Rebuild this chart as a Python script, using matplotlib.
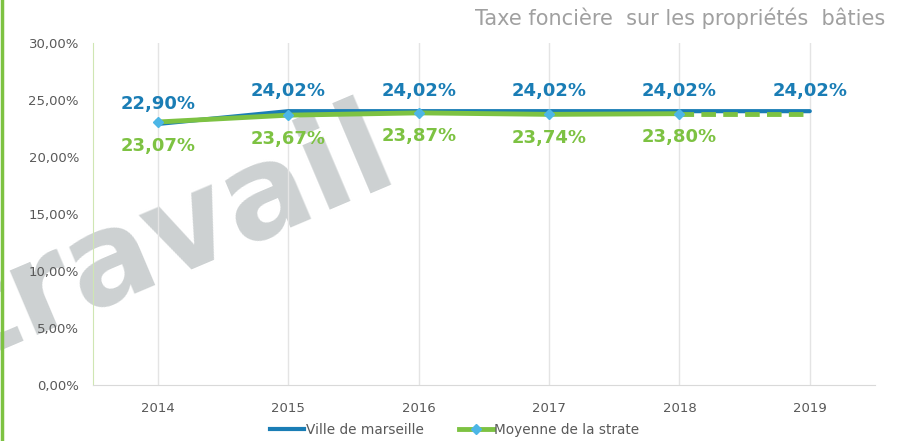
import matplotlib
matplotlib.use("Agg")
import matplotlib.pyplot as plt
from matplotlib.lines import Line2D

years = ["2014", "2015", "2016", "2017", "2018", "2019"]
ville = [22.90, 24.02, 24.02, 24.02, 24.02, 24.02]
strate = [23.07, 23.67, 23.87, 23.74, 23.80]
strate_2019 = 23.80  # dashed continuation, no label

blue = "#1a7db5"
green = "#7dc242"
marker_col = "#4cb6e6"
grey_txt = "#595959"

def fr_pct(v):
    return f"{v:.2f}".replace(".", ",") + "%"

fig = plt.figure(figsize=(9.1, 4.41), dpi=100)
ax = fig.add_axes([0.102, 0.127, 0.8595, 0.7755])
ax.set_facecolor("none")

x = list(range(len(years)))

# watermark behind the plot
fig.text(0.19, 0.46, "travail", fontsize=92, fontweight="bold",
         color="#cdd1d2", rotation=23, ha="center", va="center", zorder=-1)

# left green bar of the page
fig.add_artist(Line2D([0.002, 0.002], [0, 1], color=green, lw=2.5,
                      transform=fig.transFigure))

ax.plot(x, ville, color=blue, lw=3, solid_capstyle="round", zorder=3)
ax.plot(x[4:], [strate[-1], strate_2019], color=green, lw=3.5,
        linestyle=(0, (3, 1.5)), zorder=4)
ax.plot(x[:5], strate, color=green, lw=3.5, marker="D", markersize=5,
        markerfacecolor=marker_col, markeredgecolor=marker_col, zorder=4)

for i, v in enumerate(ville):
    ax.annotate(fr_pct(v), (i, v), xytext=(0, 14.5), textcoords="offset points",
                ha="center", va="center", fontsize=13, fontweight="bold",
                color=blue, zorder=5)
for i, v in enumerate(strate):
    ax.annotate(fr_pct(v), (i, v), xytext=(0, -17), textcoords="offset points",
                ha="center", va="center", fontsize=13, fontweight="bold",
                color=green, zorder=5)

ax.set_xlim(-0.5, 5.5)
ax.set_ylim(0, 30)
ax.set_xticks(x)
ax.set_xticklabels(years)
ax.set_yticks(range(0, 31, 5))
ax.set_yticklabels([fr_pct(t) for t in range(0, 31, 5)])
ax.tick_params(axis="both", length=0, labelsize=9.5, labelcolor=grey_txt)
ax.tick_params(axis="x", pad=12)
ax.tick_params(axis="y", pad=10)

ax.grid(axis="x", color="#e4e4e4", lw=1)
ax.set_axisbelow(True)
for s in ["top", "right"]:
    ax.spines[s].set_visible(False)
ax.spines["left"].set_color("#cfe6b3")
ax.spines["bottom"].set_color("#d9d9d9")

fig.text(0.973, 0.958, "Taxe foncière  sur les propriétés  bâties",
         ha="right", va="center", fontsize=15, color="#a0a0a0")

handles = [
    Line2D([], [], color=blue, lw=3),
    Line2D([], [], color=green, lw=3.5, marker="D", markersize=5,
           markerfacecolor=marker_col, markeredgecolor=marker_col),
]
fig.legend(handles, ["Ville de marseille", "Moyenne de la strate"],
           loc="center", bbox_to_anchor=(0.5, 0.025), ncol=2, frameon=False,
           fontsize=9.8, labelcolor=grey_txt, handlelength=2.5,
           handletextpad=0.1, columnspacing=2.6)

fig.savefig("out.png", dpi=100)
